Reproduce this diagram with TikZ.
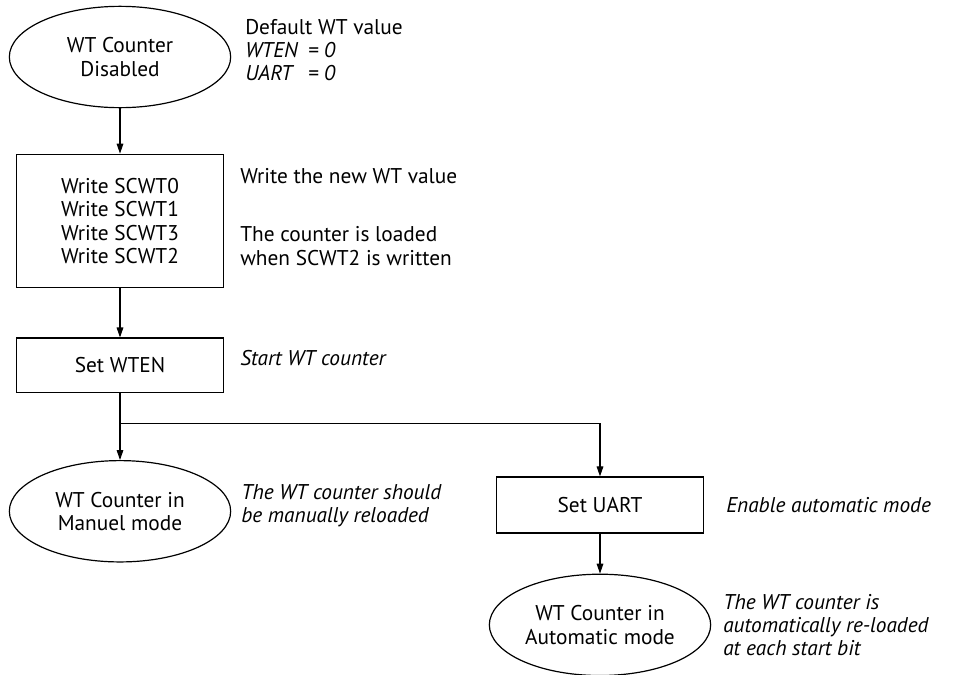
\documentclass[tikz,border=0pt]{standalone}
\usepackage{fontspec}
\setmainfont{PT Sans}
\usetikzlibrary{shapes.geometric,arrows.meta,positioning}

\newcommand{\wtfont}{\fontsize{16}{17.5}\selectfont}

\begin{document}
\begin{tikzpicture}[
    x=0.75pt, y=-0.75pt,
    font=\wtfont,
    state/.style={ellipse, draw, line width=0.9pt, minimum width=166pt,
                minimum height=76pt, inner sep=0pt, align=center},
    stepbox/.style={rectangle, draw, line width=0.9pt, minimum width=155pt, align=center},
    note/.style={anchor=west, inner sep=0pt, align=left},
    slanted/.style={note, font=\wtfont\itshape},
    arrow/.style={-{Triangle[length=7.5pt,width=5pt]}, line width=0.8pt}
]
    \useasboundingbox (0,0) rectangle (954,675);

    \node[state] (disabled) at (120,57) {WT Counter\\Disabled};
    \node[stepbox, minimum height=100pt, below=34pt of disabled] (writes)
        {Write SCWT0\\Write SCWT1\\Write SCWT3\\Write SCWT2};
    \node[stepbox, minimum height=41pt, below=37pt of writes] (setwten) {Set WTEN};
    \node[state, below=50pt of setwten] (manual) {WT Counter in\\Manuel mode};
    \node[stepbox, minimum height=42pt] (setuart) at (600,505) {Set UART};
    \node[state, below=30pt of setuart] (auto) {WT Counter in\\Automatic mode};
    \coordinate[below=22.5pt of setwten] (split);

    \draw[arrow] (disabled) -- (writes);
    \draw[arrow] (writes) -- (setwten);
    \draw[arrow] (setwten) -- (manual);
    \draw[arrow] (split) -| (setuart);
    \draw[arrow] (setuart) -- (auto);

    % comments beside the steps
    \node[note] (defnote) at (245,50) {Default WT value\\
        \textit{\makebox[2.95em][l]{WTEN}= 0}\\
        \textit{\makebox[2.95em][l]{UART}= 0}};
    \node[note] (newnote) at (240,176) {Write the new WT value};
    \node[note] (loadnote) at (240,246) {The counter is loaded\\when SCWT2 is written};
    \node[slanted] (startnote) at (240,358) {Start WT counter};
    \node[slanted] (manualnote) at (241,506)
        {The WT counter should\\be manually reloaded};
    \node[slanted] (uartnote) at (726,505) {Enable automatic mode};
    \node[slanted] (autonote) at (723,625)
        {The WT counter is\\automatically re-loaded\\at each start bit};
\end{tikzpicture}
\end{document}
